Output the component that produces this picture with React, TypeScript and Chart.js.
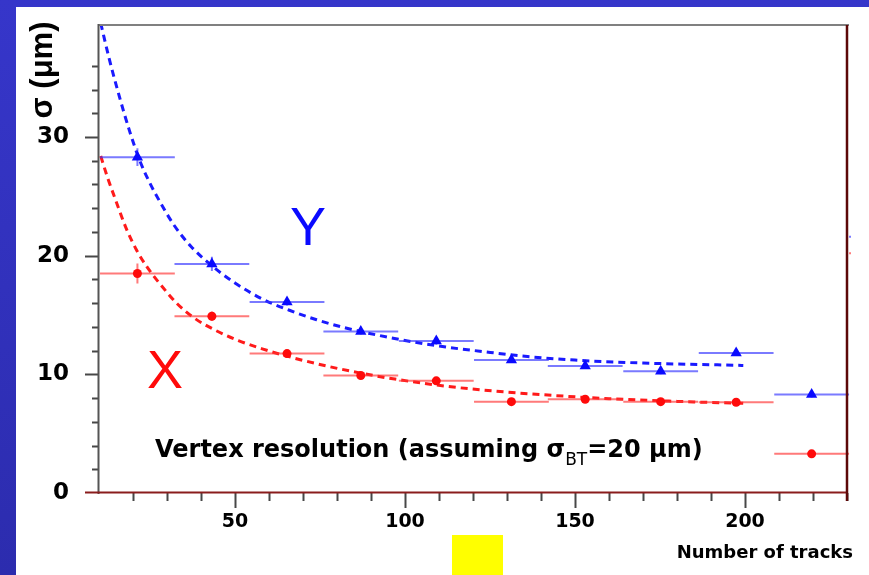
import React, { useEffect, useRef } from 'react';
import { Chart, registerables } from 'chart.js';

Chart.register(...registerables);

// Track-multiplicity bins (centre of each bin) and the half width of a bin
const binCenters = [21.3, 43.2, 65.3, 87.0, 109.2, 131.3, 153.0, 175.2, 197.4, 219.6, 241.6];
const binHalfWidth = 11;

// Measured vertex resolution per bin, in micrometres
const sigmaY = [28.3, 19.3, 16.1, 13.6, 12.8, 11.2, 10.7, 10.25, 11.8, 8.3, 21.6];
const sigmaYErr = [0.75, 0.6, 0.3, 0.25, 0.3, 0.25, 0.25, 0.25, 0.25, 0.25, 0];
const sigmaX = [18.5, 14.9, 11.75, 9.9, 9.45, 7.7, 7.9, 7.7, 7.65, 3.3, 20.2];
const sigmaXErr = [0.85, 0.4, 0.3, 0.25, 0.25, 0.2, 0.2, 0.2, 0.2, 0.2, 0];

// Fitted resolution curves (dashed)
const fitYTracks = [10.5, 13, 16, 19, 22, 25, 28, 32, 37, 43, 50, 58, 66, 74, 82, 92, 102, 112, 122, 136, 150, 170, 199.5];
const fitYSigma = [39.6, 36.6, 33.4, 30.5, 28.0, 26.1, 24.5, 22.6, 20.8, 19.2, 17.7, 16.35, 15.4, 14.6, 13.95, 13.3, 12.75, 12.3, 11.95, 11.5, 11.2, 10.95, 10.75];
const fitXTracks = [10.5, 12.5, 15, 18, 21, 24, 28, 33, 38, 44, 51, 58, 67, 77, 87, 97, 112, 126, 141, 160, 180, 200];
const fitXSigma = [28.4, 26.6, 24.6, 22.3, 20.5, 19.1, 17.6, 15.95, 14.75, 13.75, 12.85, 12.15, 11.4, 10.7, 10.1, 9.6, 9.0, 8.6, 8.27, 7.95, 7.72, 7.55];

// Labelled ticks
const xTickLabels = [50, 100, 150, 200];
const yTickLabels = [0, 10, 20, 30];

const X_MIN = 10;
const X_MAX = 230;
const Y_MIN = 0;
const Y_MAX = 39.44;

const BLUE = '#0a0aff';
const RED = '#ff0a0a';

type Pt = { x: number; y: number | null };

function errorSegments(centers: number[], values: number[], errs: number[]): Pt[] {
  const pts: Pt[] = [];
  centers.forEach((c, i) => {
    pts.push({ x: c - binHalfWidth, y: values[i] }, { x: c + binHalfWidth, y: values[i] }, { x: c, y: null });
    if (errs[i] > 0) {
      pts.push({ x: c, y: values[i] - errs[i] }, { x: c, y: values[i] + errs[i] }, { x: c, y: null });
    }
  });
  return pts;
}

function pairs(xs: number[], ys: number[]): Pt[] {
  return xs.map((x, i) => ({ x, y: ys[i] }));
}

const decorations = {
  id: 'decorations',
  beforeDraw(chart: any) {
    const { ctx, width, height } = chart;
    ctx.save();
    const g = ctx.createLinearGradient(0, 0, 0, height);
    g.addColorStop(0, '#3636ca');
    g.addColorStop(1, '#2c2cae');
    ctx.fillStyle = g;
    ctx.fillRect(0, 0, width, height);
    ctx.fillStyle = '#ffffff';
    ctx.fillRect(16, 7, width - 16, height - 7);
    ctx.restore();
  },
  afterDraw(chart: any) {
    const { ctx, chartArea: a, scales } = chart;
    const xs = scales.x;
    const ys = scales.y;
    ctx.save();

    const line = (x1: number, y1: number, x2: number, y2: number) => {
      ctx.beginPath();
      ctx.moveTo(x1, y1);
      ctx.lineTo(x2, y2);
      ctx.stroke();
    };

    // tick marks
    ctx.strokeStyle = '#474747';
    ctx.lineWidth = 2;
    ys.ticks.forEach((t: any) => {
      const v = t.value;
      if (Math.abs(v / 2 - Math.round(v / 2)) > 1e-6 || v <= ys.min) return;
      const py = Math.round(ys.getPixelForValue(v)) + 0.5;
      const len = yTickLabels.includes(v) ? 14 : 7;
      line(a.left - len, py, a.left, py);
    });
    xs.ticks.forEach((t: any) => {
      const v = t.value;
      if (v <= xs.min) return;
      const px = Math.round(xs.getPixelForValue(v)) + 0.5;
      const len = xTickLabels.includes(v) ? 15 : 8;
      line(px, a.bottom, px, a.bottom + len);
    });

    // frame
    ctx.lineWidth = 2;
    ctx.strokeStyle = '#808080';
    line(a.left - 1, a.top, a.right + 2, a.top);
    ctx.strokeStyle = '#555555';
    line(a.left - 0.5, a.top - 1, a.left - 0.5, a.bottom + 1);
    ctx.strokeStyle = '#8a1c1c';
    line(a.left - 14, a.bottom - 0.5, a.right + 1, a.bottom - 0.5);
    ctx.strokeStyle = '#5c0808';
    ctx.lineWidth = 2.5;
    line(a.right, a.top, a.right, a.bottom + 8);

    // axis titles
    ctx.fillStyle = '#000000';
    ctx.save();
    ctx.translate(51.5, 70);
    ctx.rotate(-Math.PI / 2);
    ctx.font = 'bold 31px "Liberation Sans", Arial, sans-serif';
    ctx.textAlign = 'center';
    ctx.textBaseline = 'alphabetic';
    ctx.fillText('σ (μm)', 0, 0);
    ctx.restore();

    ctx.font = 'bold 18px "DejaVu Sans", sans-serif';
    ctx.textAlign = 'right';
    ctx.textBaseline = 'alphabetic';
    ctx.fillText('Number of tracks', 853, 558);

    // series labels
    ctx.textAlign = 'left';
    ctx.font = '54px "Liberation Sans", Arial, sans-serif';
    ctx.fillStyle = BLUE;
    ctx.fillText('Y', 290, 245);
    ctx.fillStyle = RED;
    ctx.fillText('X', 147, 388);

    // caption with subscript
    ctx.fillStyle = '#000000';
    let cx = 155;
    const base = 457;
    ctx.font = 'bold 24px "DejaVu Sans", sans-serif';
    const p1 = 'Vertex resolution (assuming σ';
    ctx.fillText(p1, cx, base);
    cx += ctx.measureText(p1).width;
    ctx.font = '17px "DejaVu Sans", sans-serif';
    ctx.fillText('BT', cx, base + 8);
    cx += ctx.measureText('BT').width;
    ctx.font = 'bold 24px "DejaVu Sans", sans-serif';
    ctx.fillText('=20 μm)', cx, base);

    // highlight box below the axis
    ctx.fillStyle = '#ffff00';
    ctx.fillRect(452, 535, 51, 40);

    ctx.restore();
  },
};

export default function App() {
  const canvasRef = useRef<HTMLCanvasElement | null>(null);

  useEffect(() => {
    const canvas = canvasRef.current;
    if (!canvas) return;

    const chart = new Chart(canvas, {
      type: 'scatter',
      data: {
        datasets: [
          {
            label: 'σY',
            data: pairs(binCenters, sigmaY),
            pointStyle: 'triangle',
            pointRadius: 6.5,
            backgroundColor: BLUE,
            borderColor: BLUE,
            borderWidth: 0,
            showLine: false,
          },
          {
            label: 'σX',
            data: pairs(binCenters, sigmaX),
            pointStyle: 'circle',
            pointRadius: 4.5,
            backgroundColor: RED,
            borderColor: RED,
            borderWidth: 0,
            showLine: false,
          },
          {
            label: 'σY errors',
            data: errorSegments(binCenters, sigmaY, sigmaYErr),
            showLine: true,
            spanGaps: false,
            pointRadius: 0,
            borderColor: 'rgba(50, 50, 255, 0.65)',
            borderWidth: 2,
            clip: { left: 0, top: 0, right: 4, bottom: 0 },
          },
          {
            label: 'σX errors',
            data: errorSegments(binCenters, sigmaX, sigmaXErr),
            showLine: true,
            spanGaps: false,
            pointRadius: 0,
            borderColor: 'rgba(255, 50, 50, 0.65)',
            borderWidth: 2,
            clip: { left: 0, top: 0, right: 4, bottom: 0 },
          },
          {
            label: 'σY fit',
            data: pairs(fitYTracks, fitYSigma),
            showLine: true,
            pointRadius: 0,
            borderColor: '#1a1aff',
            borderWidth: 3,
            borderDash: [7, 5],
            cubicInterpolationMode: 'monotone',
          },
          {
            label: 'σX fit',
            data: pairs(fitXTracks, fitXSigma),
            showLine: true,
            pointRadius: 0,
            borderColor: '#ff1a1a',
            borderWidth: 3,
            borderDash: [7, 5],
            cubicInterpolationMode: 'monotone',
          },
        ],
      },
      options: {
        responsive: false,
        maintainAspectRatio: false,
        animation: false,
        events: [],
        layout: { padding: { top: 25, right: 22, left: 0, bottom: 0 } },
        plugins: {
          legend: { display: false },
          tooltip: { enabled: false },
          title: { display: false },
        },
        scales: {
          x: {
            type: 'linear',
            min: X_MIN,
            max: X_MAX,
            grid: { display: false, drawTicks: false, tickLength: 0 },
            border: { display: false },
            ticks: {
              stepSize: 10,
              autoSkip: false,
              maxRotation: 0,
              padding: 18,
              color: '#000000',
              font: { family: '"DejaVu Sans", sans-serif', weight: 'bold', size: 19 },
              callback: (v: any) => (xTickLabels.includes(Number(v)) ? String(v) : ''),
            },
            afterFit: (s: any) => {
              s.height = 82;
              s.paddingLeft = 0;
              s.paddingRight = 0;
              s.paddingTop = 0;
              s.paddingBottom = 0;
            },
          },
          y: {
            type: 'linear',
            min: Y_MIN,
            max: Y_MAX,
            grid: { display: false, drawTicks: false, tickLength: 0 },
            border: { display: false },
            ticks: {
              stepSize: 2,
              autoSkip: false,
              padding: 30,
              color: '#000000',
              font: { family: '"DejaVu Sans", sans-serif', weight: 'bold', size: 23 },
              callback: (v: any) => (yTickLabels.includes(Number(v)) ? String(v) : ''),
            },
            afterFit: (s: any) => {
              s.width = 99;
              s.paddingLeft = 0;
              s.paddingRight = 0;
              s.paddingTop = 0;
              s.paddingBottom = 0;
            },
          },
        },
      },
      plugins: [decorations],
    });

    return () => {
      chart.destroy();
    };
  }, []);

  return (
    <div style={{ position: 'fixed', left: 0, top: 0, width: 869, height: 575, overflow: 'hidden' }}>
      <canvas ref={canvasRef} width={869} height={575} style={{ display: 'block', width: 869, height: 575 }} />
    </div>
  );
}
